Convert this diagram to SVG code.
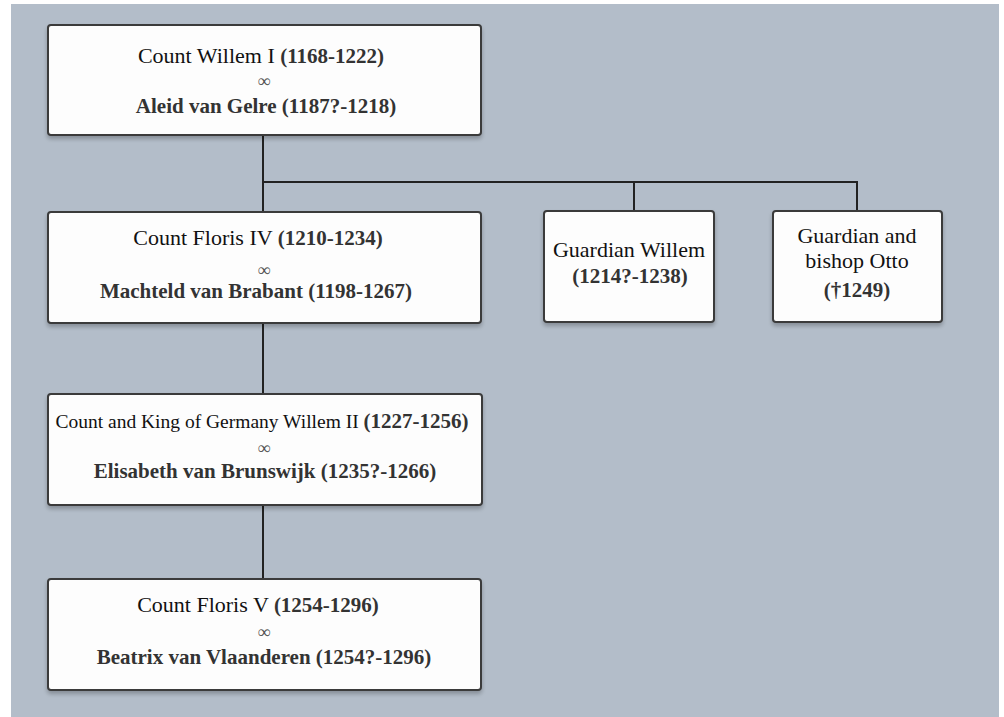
<svg xmlns="http://www.w3.org/2000/svg" width="1004" height="717" viewBox="0 0 1004 717">
<defs>
<filter id="sh" x="-5%" y="-10%" width="110%" height="130%">
<feGaussianBlur in="SourceAlpha" stdDeviation="2"/>
<feOffset dx="0" dy="3" result="b"/>
<feComponentTransfer><feFuncA type="linear" slope="0.25"/></feComponentTransfer>
<feMerge><feMergeNode/><feMergeNode in="SourceGraphic"/></feMerge>
</filter>
</defs>
<style>
.box{fill:#fdfdfd;stroke:#3a3a3a;stroke-width:2;filter:url(#sh)}
.t{font-family:"Liberation Serif","Times New Roman",serif;font-size:22px;fill:#111;text-anchor:middle}
.b{font-weight:bold;fill:#333;font-size:21px}
.inf{font-family:"Liberation Serif","DejaVu Serif",serif;font-size:18px;fill:#555;text-anchor:middle}
.ln{stroke:#222;stroke-width:2;fill:none}
</style>
<rect x="0" y="0" width="1004" height="717" fill="#ffffff"/>
<rect x="11" y="4" width="988" height="713" fill="#b3bdc9"/>
<g id="connectors">
<path class="ln" d="M263 136 V212"/>
<path class="ln" d="M263 182 H857 V212"/>
<path class="ln" d="M634 182 V212"/>
<path class="ln" d="M263 323 V394"/>
<path class="ln" d="M263 505 V579"/>
</g>
<g id="willem1">
<rect class="box" x="48" y="25" width="433" height="110" rx="3"/>
<text class="t" x="261" y="63">Count Willem I <tspan class="b">(1168-1222)</tspan></text>
<text class="inf" x="264" y="87">∞</text>
<text class="t b" x="266" y="113">Aleid van Gelre (1187?-1218)</text>
</g>
<g id="floris4">
<rect class="box" x="48" y="212" width="433" height="111" rx="3"/>
<text class="t" x="258" y="245">Count Floris IV <tspan class="b">(1210-1234)</tspan></text>
<text class="inf" x="264" y="276">∞</text>
<text class="t b" x="256" y="298">Machteld van Brabant (1198-1267)</text>
</g>
<g id="guardianWillem">
<rect class="box" x="544" y="211" width="170" height="111" rx="3"/>
<text class="t" x="629" y="257">Guardian Willem</text>
<text class="t b" x="630" y="283">(1214?-1238)</text>
</g>
<g id="otto">
<rect class="box" x="773" y="211" width="169" height="111" rx="3"/>
<text class="t" x="857" y="243">Guardian and</text>
<text class="t" x="857" y="268">bishop Otto</text>
<text class="t b" x="857" y="297">(†1249)</text>
</g>
<g id="willem2">
<rect class="box" x="48" y="394" width="434" height="111" rx="3"/>
<text class="t" x="262" y="428"><tspan style="font-size:19.5px">Count and King of Germany Willem II </tspan><tspan class="b">(1227-1256)</tspan></text>
<text class="inf" x="264" y="454">∞</text>
<text class="t b" x="265" y="478">Elisabeth van Brunswijk (1235?-1266)</text>
</g>
<g id="floris5">
<rect class="box" x="48" y="579" width="433" height="111" rx="3"/>
<text class="t" x="258" y="612">Count Floris V  <tspan class="b">(1254-1296)</tspan></text>
<text class="inf" x="264" y="638">∞</text>
<text class="t b" x="264" y="664">Beatrix van Vlaanderen (1254?-1296)</text>
</g>
</svg>
